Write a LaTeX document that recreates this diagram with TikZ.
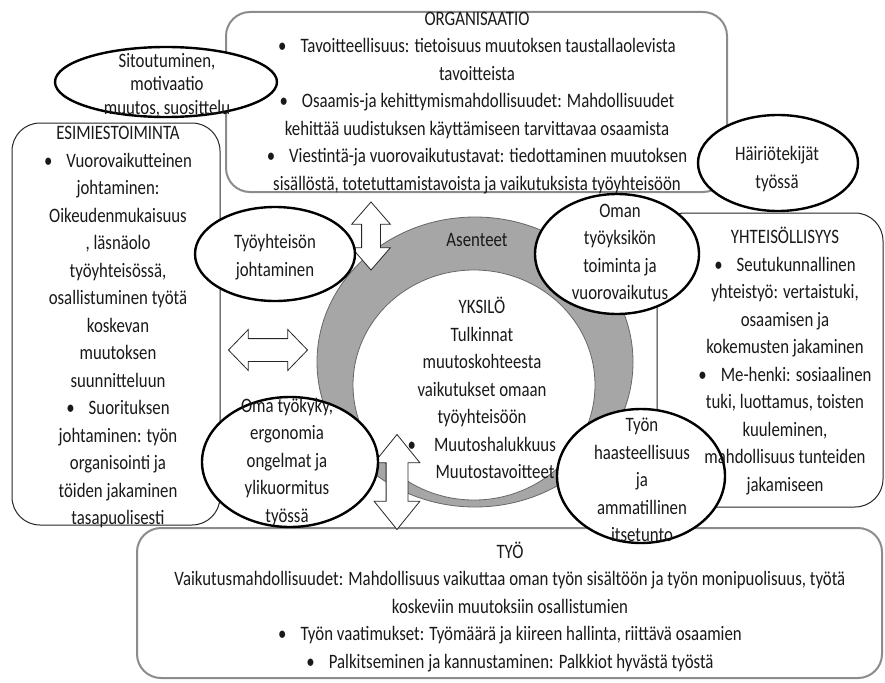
\documentclass[tikz,border=0pt]{standalone}
\usepackage{fontspec}
\setmainfont{Carlito}[FakeStretch=0.82]
\usepackage{xcolor}
\usetikzlibrary{shapes.geometric,shapes.arrows,positioning}

\definecolor{ringgrey}{RGB}{166,166,166}

\begin{document}
\begin{tikzpicture}[x=1pt, y=-1pt,
    area/.style={rectangle, draw=black!85, line width=1pt, fill=white, rounded corners=28pt, inner sep=0pt},
    greyarea/.style={rectangle, draw=black!45, line width=2pt, fill=white, rounded corners=24pt, inner sep=0pt},
    bubble/.style={ellipse, draw=black, line width=2.4pt, fill=white, inner sep=0pt},
    ringpart/.style={ellipse, draw=black!60, line width=0.8pt, inner sep=0pt},
    twoway/.style={double arrow, draw=black!85, line width=0.8pt, fill=white, inner xsep=0pt},
    txt/.style={align=center, text=black!90, font=\fontsize{20.5}{27.5}\selectfont, inner sep=0pt}
]
\useasboundingbox (0,0) rectangle (885,682);

% Areas
\node[greyarea, minimum width=501pt, minimum height=180pt] (org) at (476.5,102) {};
\node[area, minimum width=208pt, minimum height=402pt] (esim) at (116,324) {};
\node[area, minimum width=226pt, minimum height=294pt] (yht) at (770,360) {};
\node[greyarea, minimum width=745pt, minimum height=150pt] (tyo) at (509.5,603) {};

% Individual
\node[ringpart, fill=ringgrey, minimum width=316pt, minimum height=290pt] (outer) at (475,362) {};
\node[ringpart, fill=white, minimum width=242pt, minimum height=230pt] (inner) at (474,385) {};
\node[txt] (asenteet) at (477,240) {Asenteet};

% Arrows
\node[twoway, rotate=90, minimum height=68pt, inner ysep=9pt, double arrow head extend=10pt, double arrow tip angle=82] (up) at (371,236) {};
\node[twoway, minimum height=79pt, inner ysep=11pt, double arrow head extend=9pt, double arrow tip angle=92] (side) at (268,350) {};
\node[twoway, rotate=90, minimum height=95pt, inner ysep=10.5pt, double arrow head extend=12pt, double arrow tip angle=78] (down) at (397,482) {};

% Factors
\node[bubble, minimum width=222pt, minimum height=70pt] (sitou) at (166,82) {};
\node[bubble, minimum width=160pt, minimum height=94pt] (tyoyht) at (275,254) {};
\node[bubble, minimum width=164pt, minimum height=120pt] (oman) at (617,254) {};
\node[bubble, minimum width=160pt, minimum height=96pt] (hairio) at (778,163) {};
\node[bubble, minimum width=176pt, minimum height=130pt] (omatyok) at (290,462) {};
\node[bubble, minimum width=168pt, minimum height=134pt] (haast) at (641,476) {};

% Texts
\node[txt] (yksilo) at (482,388) {YKSILÖ\\Tulkinnat\\muutoskohteesta\\vaikutukset omaan\\työyhteisöön\\
    \hspace*{26pt}\llap{•\hspace{18pt}}Muutoshalukkuus\\\hspace*{26pt}Muutostavoitteet};
\node[txt] (org-txt) at (477,103) {ORGANISAATIO\\
    •\hspace{14pt}Tavoitteellisuus: tietoisuus muutoksen taustallaolevista\\
    tavoitteista\\
    •\hspace{14pt}Osaamis-ja kehittymismahdollisuudet: Mahdollisuudet\\
    kehittää uudistuksen käyttämiseen tarvittavaa osaamista\\
    •\hspace{14pt}Viestintä-ja vuorovaikutustavat: tiedottaminen muutoksen\\
    sisällöstä, totetuttamistavoista ja vaikutuksista työyhteisöön};
\node[txt] (esim-txt) at (118,327) {ESIMIESTOIMINTA\\
    •\hspace{14pt}Vuorovaikutteinen\\
    johtaminen:\\
    Oikeudenmukaisuus\\
    , läsnäolo\\
    työyhteisössä,\\
    osallistuminen työtä\\
    koskevan\\
    muutoksen\\
    suunnitteluun\\
    •\hspace{14pt}Suorituksen\\
    johtaminen: työn\\
    organisointi ja\\
    töiden jakaminen\\
    tasapuolisesti};
\node[txt] (yht-txt) at (785,361) {YHTEISÖLLISYYS\\
    •\hspace{14pt}Seutukunnallinen\\
    yhteistyö: vertaistuki,\\
    osaamisen ja\\
    kokemusten jakaminen\\
    •\hspace{14pt}Me-henki: sosiaalinen\\
    tuki, luottamus, toisten\\
    kuuleminen,\\
    mahdollisuus tunteiden\\
    jakamiseen};
\node[txt] (tyo-txt) at (510,607) {TYÖ\\
    Vaikutusmahdollisuudet: Mahdollisuus vaikuttaa oman työn sisältöön ja työn monipuolisuus, työtä\\
    koskeviin muutoksiin osallistumien\\
    •\hspace{14pt}Työn vaatimukset: Työmäärä ja kiireen hallinta, riittävä osaamien\\
    •\hspace{14pt}Palkitseminen ja kannustaminen: Palkkiot hyvästä työstä};

\node[txt, font=\fontsize{20.5}{23.5}\selectfont] (sitou-txt) at (167,85) {Sitoutuminen,\\motivaatio\\muutos, suosittelu};
\node[txt] (tyoyht-txt) at (275,257) {Työyhteisön\\johtaminen};
\node[txt] (oman-txt) at (620,252) {Oman\\työyksikön\\toiminta ja\\vuorovaikutus};
\node[txt] (hairio-txt) at (777,169) {Häiriötekijät\\työssä};
\node[txt] (omatyok-txt) at (287,462) {Oma työkyky,\\ergonomia\\ongelmat ja\\ylikuormitus\\työssä};
\node[txt] (haast-txt) at (642,480) {Työn\\haasteellisuus\\ja\\ammatillinen\\itsetunto};

\end{tikzpicture}
\end{document}
